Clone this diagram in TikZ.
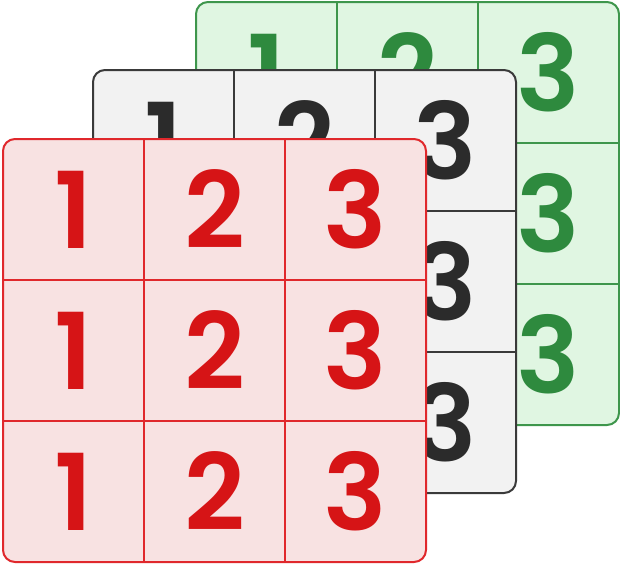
\documentclass[tikz,border=0pt]{standalone}
\usepackage{fontspec}
\setmainfont{Poppins}[BoldFont={Poppins SemiBold}]
\usetikzlibrary{calc}

\definecolor{redfill}{RGB}{248,226,226}
\definecolor{redline}{RGB}{224,40,44}
\definecolor{redtext}{RGB}{214,20,22}
\definecolor{grayfill}{RGB}{242,242,242}
\definecolor{grayline}{RGB}{58,58,58}
\definecolor{graytext}{RGB}{43,43,43}
\definecolor{greenfill}{RGB}{224,246,226}
\definecolor{greenline}{RGB}{62,150,76}
\definecolor{greentext}{RGB}{46,138,62}

\begin{document}
\begin{tikzpicture}[x=1pt, y=-1pt,
    layer/.style={line width=2pt, rounded corners=12pt},
    num/.style={font=\fontsize{106}{106}\selectfont\bfseries, inner sep=0pt}]

    \useasboundingbox (0,0) rectangle (620,563);

    % Top-left corners of the three layers (back to front)
    \coordinate (G) at (196,2);
    \coordinate (K) at (93,70);
    \coordinate (R) at (3,139);

    % Draw layers: green, gray, red
    \foreach \L/\fc/\lc/\tc/\nm in {G/greenfill/greenline/greentext/g,
                                     K/grayfill/grayline/graytext/k,
                                     R/redfill/redline/redtext/r} {
        % outer box
        \draw[layer, fill=\fc, draw=\lc] (\L) rectangle ++(423,423);
        % inner grid lines
        \foreach \i in {1,2} {
            \draw[\lc, line width=1.6pt] ($(\L)+(141*\i,0)$) -- ++(0,423);
            \draw[\lc, line width=1.6pt] ($(\L)+(0,141*\i)$) -- ++(423,0);
        }
        % numbers
        \foreach \r in {1,2,3}
            \foreach \c/\n in {0/1,1/2,2/3}
                \node[num, text=\tc] (\nm\r\n) at ($(\L)+(70.5+141*\c,141*\r-70.5)$) {\n};
    }

\end{tikzpicture}
\end{document}
